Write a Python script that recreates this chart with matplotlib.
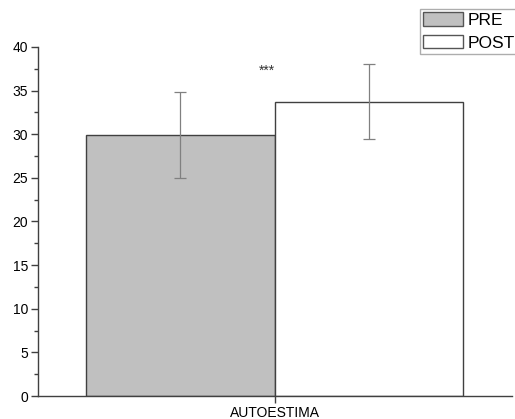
import numpy as np
import matplotlib.pyplot as plt
from matplotlib.patches import Patch

plt.rcParams['font.family'] = ['Liberation Sans', 'DejaVu Sans']

groups = ['PRE', 'POST']
means = [29.9, 33.7]
errs = [4.9, 4.3]
category = 'AUTOESTIMA'
colors = ['#c0c0c0', '#ffffff']

fig = plt.figure(figsize=(5.15, 4.19), dpi=100)
ax = fig.add_axes([38/515, 1-396/419, (512-38)/515, (396-47)/419])

x = np.arange(len(groups))
ax.bar(x, means, width=1.0, color=colors, edgecolor='#404040', linewidth=1.0, zorder=2)
ax.errorbar(x, means, yerr=errs, fmt='none', ecolor='#808080', elinewidth=0.9,
            capsize=4, capthick=0.9, zorder=3)

# significance marker
ax.text(0.46, 37.3, '***', ha='center', va='center', fontsize=10, color='#333333')

ax.set_xlim(-0.755, 1.76)
ax.set_ylim(0, 40)
ax.set_yticks(np.arange(0, 41, 5))
ax.set_yticks(np.arange(0, 40, 2.5), minor=True)
ax.set_xticks([0.5])
ax.set_xticklabels([category])

for s in ['top', 'right']:
    ax.spines[s].set_visible(False)
for s in ['left', 'bottom']:
    ax.spines[s].set_color('#404040')
    ax.spines[s].set_linewidth(1.0)
ax.tick_params(axis='y', which='major', length=5, width=1, color='#404040', labelsize=10, pad=2)
ax.tick_params(axis='y', which='minor', length=3, width=1, color='#404040')
ax.tick_params(axis='x', length=5, width=1, color='#404040', labelsize=10, pad=2)

handles = [Patch(facecolor=c, edgecolor='#555555', linewidth=1.0) for c in colors]
leg = fig.legend(handles, groups, loc='upper left', bbox_to_anchor=(420/515, 1-9/419),
                 fontsize=12.5, frameon=True, fancybox=False, edgecolor='#999999',
                 handlelength=2.25, handleheight=0.86, handletextpad=0.3,
                 labelspacing=0.35, borderpad=0.2, borderaxespad=0)
leg.get_frame().set_linewidth(1.0)

fig.savefig('out.png', dpi=100)
